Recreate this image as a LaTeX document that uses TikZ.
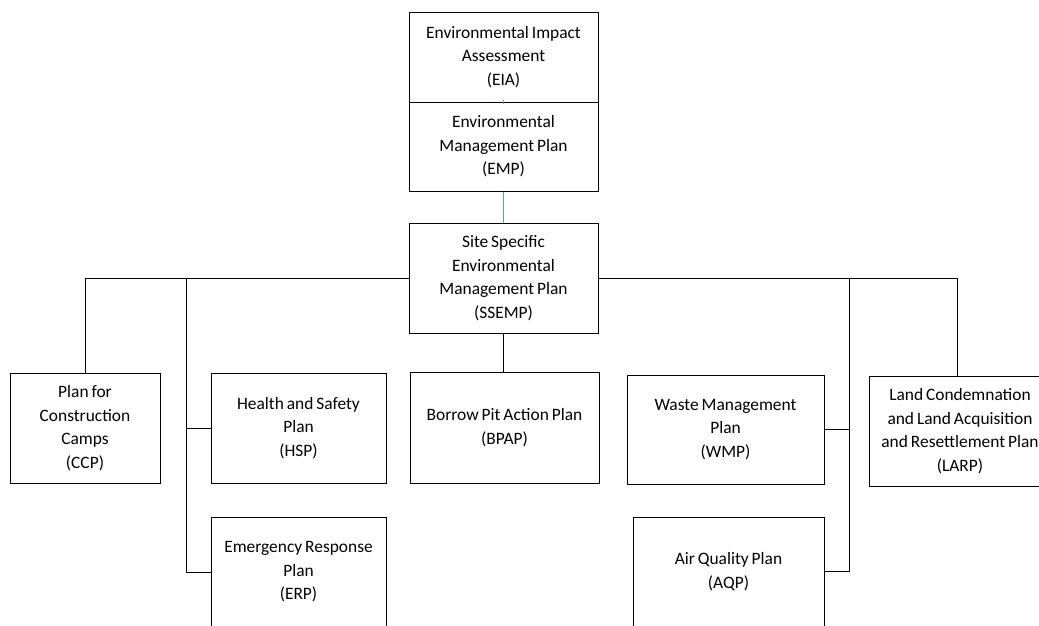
\documentclass[tikz,border=0pt]{standalone}
\usepackage{fontspec}
\setmainfont{Carlito}[WordSpace=0.75]
\usetikzlibrary{calc}
\definecolor{linkblue}{RGB}{91,155,213}
\tikzset{
  box/.style={draw=black, line width=1pt, align=center, inner sep=0pt,
    font=\fontsize{17.4}{23.5}\selectfont, text=black},
  conn/.style={draw=black, line width=1pt},
  bluelink/.style={draw=linkblue, line width=1.1pt}
}
\begin{document}
\begin{tikzpicture}[x=1pt,y=-1pt]
\useasboundingbox (0,0) rectangle (1039,625);
\node[box, minimum width=189pt, minimum height=90pt] (EIA) at (503.5,57) {Environmental Impact\\Assessment\\(EIA)};
\node[box, minimum width=189pt, minimum height=89pt] (EMP) at (503.5,146.5) {Environmental\\Management Plan\\(EMP)};
\node[box, minimum width=189pt, minimum height=110pt] (SSEMP) at (503.5,278) {Site Specific\\Environmental\\Management Plan\\(SSEMP)};
\node[box, minimum width=150pt, minimum height=110pt] (CCP) at (85,428) {Plan for\\Construction\\Camps\\(CCP)};
\node[box, minimum width=175pt, minimum height=110pt] (HSP) at (298.5,428) {Health and Safety\\Plan\\(HSP)};
\node[box, minimum width=189pt, minimum height=111pt] (BPAP) at (504.5,427.5) {Borrow Pit Action Plan\\(BPAP)};
\node[box, minimum width=197pt, minimum height=109pt] (WMP) at (725.5,429.5) {Waste Management\\Plan\\(WMP)};
\node[box, minimum width=182pt, minimum height=110pt] (LARP) at (960,431) {Land Condemnation\\and Land Acquisition\\and Resettlement Plan\\(LARP)};
\node[box, minimum width=175pt, minimum height=110pt] (ERP) at (298.5,572) {Emergency Response\\Plan\\(ERP)};
\node[box, minimum width=191pt, minimum height=109pt] (AQP) at (728.5,571.5) {Air Quality Plan\\(AQP)};
\coordinate (vl) at (186,278);
\coordinate (vr) at (849,278);
\draw[bluelink] ([yshift=3pt]EIA.south) -- ([yshift=-2pt]EMP.north);
\draw[bluelink] (EMP.south) -- (SSEMP.north);
\draw[conn] (SSEMP.south) -- (SSEMP.south |- BPAP.north);
\draw[conn] (SSEMP.west) -| (CCP.north);
\draw[conn] (vl) |- (ERP.west);
\draw[conn] (vl |- HSP.west) -- (HSP.west);
\draw[conn] (SSEMP.east) -| ([xshift=-3pt]LARP.north);
\draw[conn] (vr) |- (AQP.east);
\draw[conn] (WMP.east) -- (vr |- WMP.east);
\end{tikzpicture}
\end{document}
